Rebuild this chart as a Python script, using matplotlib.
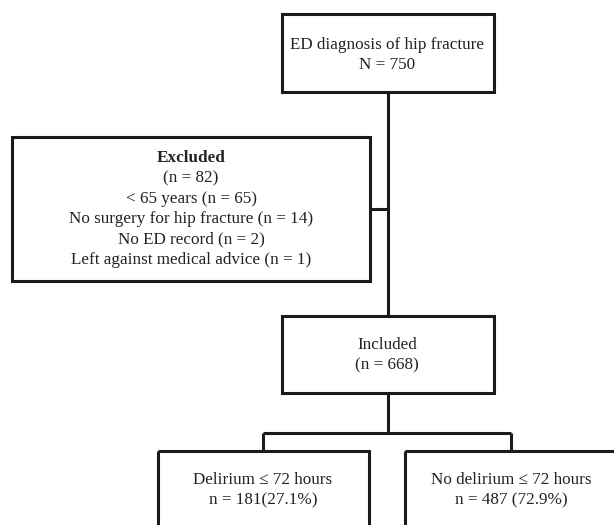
import matplotlib
matplotlib.use("Agg")
import matplotlib.pyplot as plt
from matplotlib.patches import Rectangle

plt.rcParams['font.family'] = ['Liberation Serif', 'DejaVu Serif']

# ---- data ----
top_lines = ["ED diagnosis of hip fracture", "N = 750"]
excluded_title = "Excluded"
excluded_lines = ["(n = 82)", "< 65 years (n = 65)", "No surgery for hip fracture (n = 14)",
                  "No ED record (n = 2)", "Left against medical advice (n = 1)"]
included_lines = ["Included", "(n = 668)"]
delirium_lines = ["Delirium \u2264 72 hours", "n = 181(27.1%)"]
nodelirium_lines = ["No delirium \u2264 72 hours", "n = 487 (72.9%)"]

W, H = 614, 525
fig = plt.figure(figsize=(W / 100, H / 100), dpi=100)
ax = fig.add_axes([0, 0, 1, 1])
ax.set_xlim(0, W)
ax.set_ylim(H, 0)
ax.axis('off')

LW = 2.2
FS = 12.3
LS = 20.2

def box(x0, y0, x1, y1):
    ax.add_patch(Rectangle((x0, y0), x1 - x0, y1 - y0, fill=False,
                           edgecolor='#1a1a1a', lw=LW, joinstyle='miter'))

def lines_text(cx, cy, lines, bold_first=False):
    n = len(lines)
    start = cy - (n - 1) * LS / 2
    for i, t in enumerate(lines):
        ax.text(cx, start + i * LS, t, ha='center', va='center', fontsize=FS,
                color='#222222',
                fontweight='bold' if (bold_first and i == 0) else 'normal')

def seg(xs, ys):
    ax.plot(xs, ys, color='#1a1a1a', lw=LW, solid_capstyle='butt')

# boxes
box(282, 14, 494, 92)
lines_text(387, 55, top_lines)

box(12, 137, 370, 281)
lines_text(191, 209, [excluded_title] + excluded_lines, bold_first=True)

box(282, 316, 494, 393)
lines_text(387, 355, included_lines)

box(158, 451, 369, 560)
lines_text(263, 490, delirium_lines)

box(405, 451, 618, 560)
lines_text(511, 490, nodelirium_lines)

# connectors
seg([388, 388], [92, 316])
seg([370, 388], [209, 209])
seg([388, 388], [393, 433])
seg([263, 511], [433, 433])
seg([263, 263], [433, 451])
seg([511, 511], [433, 451])

fig.savefig("out.png", dpi=100)
